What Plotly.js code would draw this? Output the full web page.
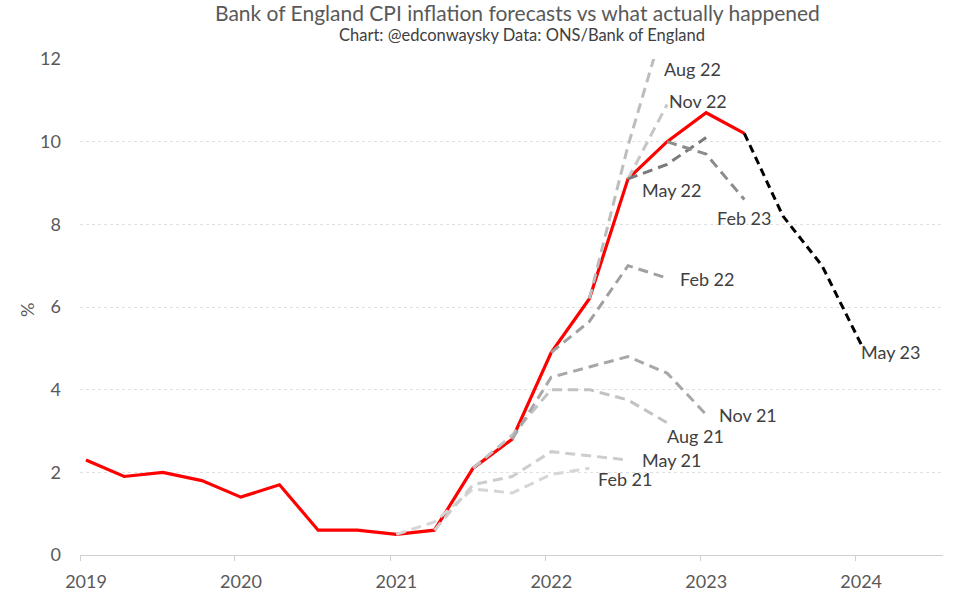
<!DOCTYPE html>
<html>
<head>
<meta charset="utf-8">
<script src="https://cdn.plot.ly/plotly-3.0.1.min.js"></script>
<style>html,body{margin:0;padding:0;background:#fff;}#chart{width:960px;height:614px;}</style>
</head>
<body>
<div id="chart"></div>
<script>
// Quarter dates (as plotted on the time axis)
const quarters = ["2019-01-15","2019-04-15","2019-07-15","2019-10-15","2020-01-15","2020-04-15","2020-07-15","2020-10-15",
  "2021-01-15","2021-04-15","2021-07-15","2021-10-15","2022-01-15","2022-04-15","2022-07-15","2022-10-15",
  "2023-01-15","2023-04-15","2023-07-15","2023-10-15","2024-01-15"];

// Actual CPI inflation (%)
const actual = [2.3,1.9,2.0,1.8,1.4,1.7,0.6,0.6,0.5,0.6,2.1,2.8,4.9,6.2,9.1,10.0,10.7,10.2];

// Bank of England forecasts: start quarter index and values
const feb21 = {start: 8,  values: [0.5,0.8,1.6,1.5,1.95,2.1]};
const may21 = {start: 9,  values: [0.6,1.7,1.9,2.5,2.4,2.3]};
const aug21 = {start: 10, values: [2.1,2.9,4.0,4.0,3.75,3.2]};
const nov21 = {start: 11, values: [2.8,4.3,4.55,4.8,4.4,3.4]};
const feb22 = {start: 12, values: [4.9,5.65,7.0,6.7]};
const may22 = {start: 14, values: [9.1,9.45,10.1]};
const aug22 = {start: 13, values: [6.2,9.9,13.1]};
const nov22 = {start: 14, values: [9.1,10.9]};
const feb23 = {start: 15, values: [10.0,9.7,8.6]};
const may23 = {start: 17, values: [10.2,8.2,7.0,5.1]};

const forecastNames = ["Feb 21","May 21","Aug 21","Nov 21","Feb 22","Aug 22","Nov 22","May 22","Feb 23"];
const forecastData  = [feb21, may21, aug21, nov21, feb22, aug22, nov22, may22, feb23];
const forecastColors = ["#d6d6d6","#cdcdcd","#c2c2c2","#a8a8a8","#a0a0a0","#bdbdbd","#c6c6c6","#7a7a7a","#8c8c8c"];

// Label anchors (left edge date, value)
const labelText = ["Aug 22","Nov 22","May 22","Feb 23","Feb 22","May 23","Nov 21","Aug 21","May 21","Feb 21"];
const labelX = ["2022-10-03","2022-10-14","2022-08-13","2023-02-05","2022-11-10","2024-01-10","2023-02-10","2022-10-10","2022-08-13","2022-05-01"];
const labelY = [11.76,10.98,8.82,8.15,6.68,4.92,3.38,2.88,2.3,1.84];

const yTicks = [0,2,4,6,8,10,12];
const xTickVals = ["2019-01-01","2020-01-01","2021-01-01","2022-01-01","2023-01-01","2024-01-01"];
const xTickText = ["2019","2020","2021","2022","2023","2024"];

const FONT = "Lato, 'Open Sans', sans-serif";

const traces = [];
traces.push({
  x: quarters.slice(0, actual.length), y: actual, mode: "lines", type: "scatter",
  line: {color: "#ff0000", width: 3.2}, hoverinfo: "skip", name: "Actual"
});
forecastData.forEach((f, i) => {
  traces.push({
    x: quarters.slice(f.start, f.start + f.values.length), y: f.values, mode: "lines", type: "scatter",
    line: {color: forecastColors[i], width: 3, dash: "10px,6px"}, hoverinfo: "skip", name: forecastNames[i]
  });
});
traces.push({
  x: quarters.slice(may23.start, may23.start + may23.values.length), y: may23.values, mode: "lines", type: "scatter",
  line: {color: "#000000", width: 3, dash: "8px,5px"}, hoverinfo: "skip", name: "May 23"
});

const annotations = labelText.map((t, i) => ({
  text: t, x: labelX[i], y: labelY[i], xref: "x", yref: "y",
  xanchor: "left", yanchor: "middle", showarrow: false,
  font: {family: FONT, size: 18, color: "#404040"}
}));
annotations.push({
  text: "Chart: @edconwaysky Data: ONS/Bank of England",
  xref: "paper", yref: "paper", x: 0.512, y: 1.0, yshift: 24,
  xanchor: "center", yanchor: "middle", showarrow: false,
  font: {family: FONT, size: 16.5, color: "#404040"}
});
annotations.push({
  text: "%", xref: "paper", yref: "paper", x: -0.0614, y: 0.494,
  xanchor: "center", yanchor: "middle", textangle: -90, showarrow: false,
  font: {family: FONT, size: 18, color: "#595959"}
});

const layout = {
  width: 960, height: 614,
  margin: {l: 80, r: 17, t: 59, b: 59},
  paper_bgcolor: "#ffffff", plot_bgcolor: "#ffffff",
  showlegend: false,
  title: {
    text: "Bank of England CPI inflation forecasts vs what actually happened",
    x: 0.539, xanchor: "center", y: 0.977, yanchor: "middle",
    font: {family: FONT, size: 21, color: "#595959"}
  },
  xaxis: {
    type: "date",
    range: ["2019-01-01", "2024-07-26"],
    tickmode: "array", tickvals: xTickVals, ticktext: xTickText,
    ticks: "outside", ticklen: 5, tickcolor: "#d0d0d0",
    showline: true, linecolor: "#d0d0d0", linewidth: 1,
    showgrid: false, zeroline: false,
    ticklabelshift: 6, ticklabelstandoff: 5,
    tickfont: {family: FONT, size: 18, color: "#595959"}
  },
  yaxis: {
    range: [0, 12],
    tickmode: "array", tickvals: yTicks,
    showgrid: true, gridcolor: "#e0e0e0", gridwidth: 1, griddash: "dot",
    zeroline: false, showline: false, ticks: "",
    ticklabelstandoff: 18,
    tickfont: {family: FONT, size: 18, color: "#595959"}
  },
  annotations: annotations
};

Plotly.newPlot("chart", traces, layout, {displayModeBar: false, staticPlot: true});
</script>
</body>
</html>
